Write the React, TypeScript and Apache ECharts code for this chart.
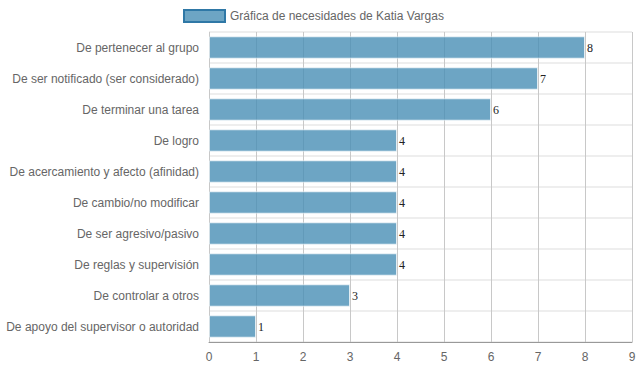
import React, { useEffect, useRef } from "react";
import * as echarts from "echarts";

const categories = [
  "De pertenecer al grupo",
  "De ser notificado (ser considerado)",
  "De terminar una tarea",
  "De logro",
  "De acercamiento y afecto (afinidad)",
  "De cambio/no modificar",
  "De ser agresivo/pasivo",
  "De reglas y supervisión",
  "De controlar a otros",
  "De apoyo del supervisor o autoridad",
];
const values = [8, 7, 6, 4, 4, 4, 4, 4, 3, 1];
const seriesName = "Gráfica de necesidades de Katia Vargas";

export default function App() {
  const ref = useRef<HTMLDivElement>(null);
  useEffect(() => {
    const chart = echarts.init(ref.current!, null, { renderer: "svg" });
    chart.setOption({
      animation: false,
      legend: {
        top: 9,
        left: 183,
        padding: 0,
        icon: "rect",
        itemWidth: 41,
        itemHeight: 12,
        itemGap: 6,
        textStyle: { color: "#666", fontSize: 12, fontFamily: "Liberation Sans, Arial, sans-serif" },
        itemStyle: { borderColor: "#2f78a6", borderWidth: 2 },
        data: [seriesName],
      },
      grid: { left: 209, right: 7, top: 32, bottom: 30 },
      xAxis: {
        type: "value",
        min: 0,
        max: 9,
        interval: 1,
        axisLine: { show: true, lineStyle: { color: "#999", width: 1 } },
        axisTick: { show: false },
        axisLabel: { color: "#666", fontSize: 12, margin: 9, fontFamily: "Liberation Sans, Arial, sans-serif" },
        splitLine: { show: true, lineStyle: { color: "#c8c8c8", width: 1 } },
      },
      yAxis: {
        type: "category",
        inverse: true,
        data: categories,
        axisLine: { show: false },
        axisTick: { show: false },
        axisLabel: { color: "#666", fontSize: 12, margin: 10, fontFamily: "Liberation Sans, Arial, sans-serif" },
        splitLine: { show: true, lineStyle: { color: "#eeeeee", width: 2 } },
      },
      series: [
        {
          name: seriesName,
          type: "bar",
          data: values,
          barCategoryGap: "28%",
          itemStyle: {
            color: "rgba(72,143,181,0.8)",
            borderColor: "rgba(255,255,255,0.6)",
            borderWidth: 1,
          },
          label: {
            show: true,
            position: "right",
            distance: 2,
            color: "#222",
            fontSize: 12,
            fontFamily: "Liberation Serif, Times New Roman, serif",
          },
        },
      ],
    });
    return () => chart.dispose();
  }, []);
  return <div ref={ref} style={{ width: 639, height: 372, position: "absolute", left: 0, top: 0 }} />;
}
